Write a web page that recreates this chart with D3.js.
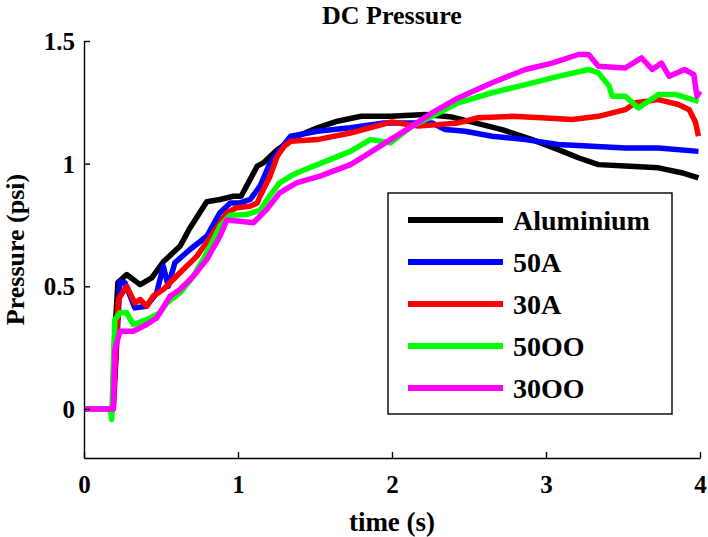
<!DOCTYPE html>
<html>
<head>
<meta charset="utf-8">
<script src="https://cdn.jsdelivr.net/npm/d3@7"></script>
<style>
  html, body { margin: 0; padding: 0; background: #fff; }
  svg { display: block; }
  text { font-family: "Liberation Serif", "Times New Roman", serif; font-weight: bold; fill: #000; }
</style>
</head>
<body>
<svg id="chart" width="708" height="537"></svg>
<script>
const seriesNames = ["Aluminium", "50A", "30A", "50OO", "30OO"];
const seriesColors = ["#000000", "#0000ff", "#ff0000", "#00ff00", "#ff00ff"];
const xTicks = [0, 1, 2, 3, 4];
const yTicks = [0, 0.5, 1, 1.5];
const yTickLabels = ["0", "0.5", "1", "1.5"];

const aluminium = [[0,0],[0.17,0],[0.185,0.01],[0.2,0.3],[0.22,0.515],[0.277,0.548],[0.364,0.507],[0.44,0.534],[0.515,0.60],[0.623,0.663],[0.688,0.738],[0.797,0.845],[0.883,0.854],[0.97,0.867],[1.02,0.867],[1.078,0.935],[1.125,0.99],[1.164,1.003],[1.255,1.057],[1.385,1.112],[1.515,1.146],[1.645,1.173],[1.80,1.193],[1.99,1.193],[2.216,1.20],[2.39,1.19],[2.54,1.166],[2.714,1.139],[2.91,1.098],[3.08,1.057],[3.21,1.024],[3.34,0.996],[3.515,0.99],[3.73,0.983],[3.88,0.963],[3.99,0.942]];
const a50A = [[0,0],[0.17,0],[0.19,0],[0.234,0.52],[0.266,0.514],[0.33,0.412],[0.407,0.419],[0.472,0.473],[0.515,0.582],[0.547,0.50],[0.59,0.596],[0.688,0.65],[0.797,0.704],[0.883,0.80],[0.95,0.84],[1.013,0.84],[1.08,0.854],[1.143,0.908],[1.208,1.003],[1.255,1.044],[1.342,1.112],[1.515,1.132],[1.73,1.146],[1.948,1.166],[2.26,1.166],[2.346,1.139],[2.476,1.132],[2.65,1.112],[2.866,1.098],[3.08,1.078],[3.30,1.071],[3.515,1.064],[3.73,1.064],[3.99,1.05]];
const a30A = [[0,0],[0.17,0],[0.19,0],[0.223,0.446],[0.277,0.50],[0.33,0.432],[0.364,0.446],[0.407,0.419],[0.45,0.46],[0.515,0.487],[0.623,0.555],[0.732,0.622],[0.84,0.718],[0.927,0.80],[0.99,0.82],[1.078,0.826],[1.125,0.84],[1.143,0.867],[1.208,0.949],[1.255,1.03],[1.30,1.071],[1.342,1.091],[1.515,1.098],[1.73,1.125],[2.0,1.17],[2.17,1.153],[2.43,1.166],[2.56,1.187],[2.78,1.193],[2.97,1.187],[3.17,1.18],[3.34,1.193],[3.515,1.22],[3.58,1.248],[3.73,1.261],[3.86,1.241],[3.93,1.22],[3.97,1.17],[3.99,1.112]];
const o50OO = [[0,0],[0.17,0],[0.18,-0.043],[0.2,0.364],[0.234,0.392],[0.277,0.392],[0.32,0.344],[0.407,0.364],[0.494,0.392],[0.537,0.432],[0.623,0.473],[0.71,0.541],[0.797,0.636],[0.883,0.745],[0.948,0.79],[1.056,0.793],[1.143,0.81],[1.208,0.87],[1.27,0.922],[1.342,0.949],[1.38,0.962],[1.515,0.996],[1.73,1.05],[1.86,1.098],[1.99,1.085],[2.13,1.153],[2.26,1.193],[2.43,1.248],[2.65,1.289],[2.866,1.322],[3.08,1.356],[3.277,1.384],[3.34,1.37],[3.41,1.316],[3.43,1.275],[3.515,1.275],[3.60,1.227],[3.73,1.282],[3.84,1.282],[3.99,1.254]];
const o30OO = [[0,0],[0.17,0],[0.19,0],[0.20,0.242],[0.234,0.317],[0.32,0.317],[0.407,0.344],[0.472,0.371],[0.558,0.459],[0.623,0.487],[0.71,0.541],[0.797,0.609],[0.883,0.704],[0.927,0.77],[1.013,0.765],[1.10,0.759],[1.186,0.813],[1.27,0.881],[1.38,0.922],[1.532,0.949],[1.73,0.996],[1.818,1.03],[1.99,1.098],[2.13,1.153],[2.26,1.207],[2.43,1.268],[2.65,1.33],[2.866,1.384],[3.04,1.41],[3.21,1.445],[3.277,1.445],[3.34,1.397],[3.515,1.39],[3.62,1.431],[3.69,1.384],[3.75,1.41],[3.80,1.356],[3.90,1.384],[3.96,1.363],[3.98,1.275],[4.0,1.295]];
const seriesData = [aluminium, a50A, a30A, o50OO, o30OO];

const svg = d3.select("#chart");
const mLeft = 84, mRight = 700, mTop = 41, mBottom = 458;

const x = d3.scaleLinear().domain([0, 4]).range([mLeft, mRight]);
const y = d3.scaleLinear().domain([-0.2, 1.5]).range([mBottom, mTop]);

// series lines
const line = d3.line().x(d => x(d[0])).y(d => y(d[1]));
seriesData.forEach((data, i) => {
  svg.append("path")
    .datum(data)
    .attr("d", line)
    .attr("fill", "none")
    .attr("stroke", seriesColors[i])
    .attr("stroke-width", 5.5)
    .attr("stroke-linejoin", "round")
    .attr("stroke-linecap", "butt");
});

// axes
const xAxis = d3.axisBottom(x).tickValues(xTicks).tickSizeInner(-6).tickSizeOuter(0).tickFormat(d3.format("d"));
const gx = svg.append("g").attr("transform", `translate(0,${mBottom})`).call(xAxis);
gx.attr("font-family", null).attr("font-size", null);
gx.select(".domain").attr("stroke", "#000").attr("stroke-width", 1.4);
gx.selectAll(".tick line").attr("stroke", "#000").attr("stroke-width", 1.4);
gx.selectAll(".tick text").attr("font-size", 25).attr("dy", null).attr("y", 35);

const yAxis = d3.axisLeft(y).tickValues(yTicks).tickSizeInner(-6).tickSizeOuter(0).tickFormat((d, i) => yTickLabels[i]);
const gy = svg.append("g").attr("transform", `translate(${mLeft},0)`).call(yAxis);
gy.attr("font-family", null).attr("font-size", null);
gy.select(".domain").attr("stroke", "#000").attr("stroke-width", 1.4);
gy.selectAll(".tick line").attr("stroke", "#000").attr("stroke-width", 1.4);
gy.selectAll(".tick text").attr("font-size", 25).attr("x", -9).attr("dy", "0.34em");

// title & labels
svg.append("text").attr("x", (mLeft + mRight) / 2).attr("y", 24).attr("text-anchor", "middle").attr("font-size", 26).text("DC Pressure");
svg.append("text").attr("x", (mLeft + mRight) / 2).attr("y", 531).attr("text-anchor", "middle").attr("font-size", 27).text("time (s)");
svg.append("text").attr("transform", `translate(24,${(mTop + mBottom) / 2}) rotate(-90)`).attr("text-anchor", "middle").attr("font-size", 26).text("Pressure (psi)");

// legend
const lg = svg.append("g");
lg.append("rect").attr("x", 388).attr("y", 193).attr("width", 284).attr("height", 221).attr("fill", "#fff").attr("stroke", "#000").attr("stroke-width", 1.4);
seriesNames.forEach((name, i) => {
  const ly = 220 + i * 42;
  lg.append("line").attr("x1", 408).attr("x2", 503).attr("y1", ly).attr("y2", ly).attr("stroke", seriesColors[i]).attr("stroke-width", 6);
  lg.append("text").attr("x", 513).attr("y", ly + 10).attr("font-size", 28).text(name);
});
</script>
</body>
</html>
